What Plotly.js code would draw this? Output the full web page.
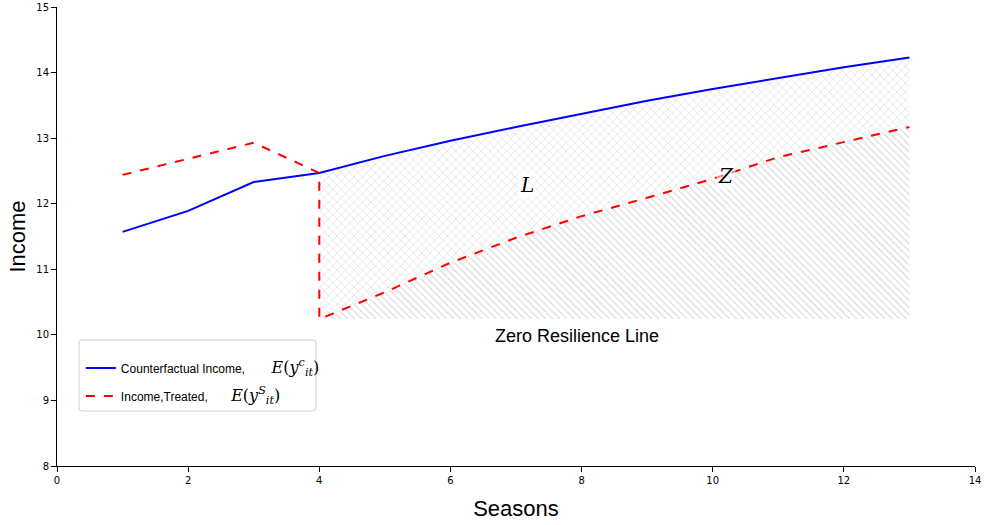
<!DOCTYPE html>
<html>
<head>
<meta charset="utf-8">
<script src="https://cdn.plot.ly/plotly-3.0.1.min.js"></script>
<style>html,body{margin:0;padding:0;background:#fff;}#chart{width:984px;height:525px;}</style>
</head>
<body>
<div id="chart"></div>
<script>
// Seasons for counterfactual
const seasons = [1, 2, 3, 4, 5, 6, 7, 8, 9, 10, 11, 12, 13];
const counterfactual = [11.57, 11.89, 12.33, 12.47, 12.73, 12.96, 13.17, 13.37, 13.57, 13.75, 13.92, 14.08, 14.23];
// Treated income: pre-shock and post-shock (shock at season 4)
const treatedSeasons = [1, 2, 3, 4, 4, 5, 6, 7, 8, 9, 10, 11, 12, 13];
const treated = [12.44, 12.68, 12.93, 12.47, 10.24, 10.65, 11.10, 11.48, 11.81, 12.09, 12.38, 12.71, 12.94, 13.17];
const postSeasons = [4, 5, 6, 7, 8, 9, 10, 11, 12, 13];
const treatedPost = [10.24, 10.65, 11.10, 11.48, 11.81, 12.09, 12.38, 12.71, 12.94, 13.17];
const counterfactualPost = [12.47, 12.73, 12.96, 13.17, 13.37, 13.57, 13.75, 13.92, 14.08, 14.23];
const zeroResilience = postSeasons.map(() => treatedPost[0]);

const mathFont = 'font-family:"DejaVu Serif","Liberation Serif",serif;font-size:16px';
const traces = [
  {x: postSeasons, y: zeroResilience, mode: 'lines', line: {width: 0, color: 'rgba(0,0,0,0)'}, showlegend: false, hoverinfo: 'skip'},
  {x: postSeasons, y: treatedPost, mode: 'lines', line: {width: 0, color: 'rgba(0,0,0,0)'}, fill: 'tonexty',
   fillcolor: 'rgba(0,0,0,0)',
   fillpattern: {shape: '\\', fgcolor: '#d8d8d8', bgcolor: 'rgba(255,255,255,0)', size: 5, solidity: 0.22}, showlegend: false, hoverinfo: 'skip'},
  {x: postSeasons, y: counterfactualPost, mode: 'lines', line: {width: 0, color: 'rgba(0,0,0,0)'}, fill: 'tonexty',
   fillcolor: 'rgba(0,0,0,0)',
   fillpattern: {shape: 'x', fgcolor: '#d4d4d4', bgcolor: 'rgba(255,255,255,0)', size: 6, solidity: 0.18}, showlegend: false, hoverinfo: 'skip'},
  {x: seasons, y: counterfactual, mode: 'lines', line: {color: '#0000ff', width: 2}, legendgroup: 'a',
   name: 'Counterfactual Income,&nbsp;&nbsp;&nbsp;&nbsp;&nbsp;&nbsp;&nbsp;&nbsp;<span style=\'' + mathFont + '\'><i>E</i>(<i>y</i><sup><i>c</i></sup><sub><i>it</i></sub>)</span>'},
  {x: treatedSeasons, y: treated, mode: 'lines', line: {color: '#ff0000', width: 2, dash: 'dash'}, legendgroup: 'b',
   name: 'Income,Treated,&nbsp;&nbsp;&nbsp;&nbsp;&nbsp;&nbsp;&nbsp;<span style=\'' + mathFont + '\'><i>E</i>(<i>y</i><sup><i>S</i></sup><sub><i>it</i></sub>)</span>'}
];

const layout = {
  width: 984, height: 525,
  margin: {l: 57, r: 9, t: 7, b: 59},
  paper_bgcolor: '#ffffff', plot_bgcolor: '#ffffff',
  font: {family: '"Liberation Sans", Arial, sans-serif', color: '#000'},
  showlegend: true,
  legend: {x: 0.026, y: 0.245, xanchor: 'left', yanchor: 'top', bgcolor: 'rgba(255,255,255,0)', borderwidth: 0,
           font: {size: 12, family: '"Liberation Sans", Arial, sans-serif'}, traceorder: 'grouped', tracegroupgap: 9, itemwidth: 30},
  shapes: [
    {type: 'path', xref: 'paper', yref: 'paper', layer: 'above',
     path: 'M 0.0272,0.2745 L 0.2784,0.2745 Q 0.2822,0.2745 0.2822,0.2680 L 0.2822,0.1264 Q 0.2822,0.1198 0.2784,0.1198 L 0.0272,0.1198 Q 0.0240,0.1198 0.0240,0.1264 L 0.0240,0.2680 Q 0.0240,0.2745 0.0272,0.2745 Z',
     fillcolor: '#ffffff', line: {color: '#d0d0d0', width: 1}}
  ],
  xaxis: {range: [0, 14], dtick: 2, tick0: 0, showgrid: false, zeroline: false, showline: true, linecolor: '#000', linewidth: 1,
          ticks: 'outside', ticklen: 5, tickcolor: '#000', tickfont: {size: 10, family: '"DejaVu Sans", sans-serif'},
          title: {text: 'Seasons', font: {size: 22}, standoff: 15}},
  yaxis: {range: [8, 15], dtick: 1, tick0: 8, showgrid: false, zeroline: false, showline: true, linecolor: '#000', linewidth: 1,
          ticks: 'outside', ticklen: 5, tickcolor: '#000', tickfont: {size: 10, family: '"DejaVu Sans", sans-serif'},
          title: {text: 'Income', font: {size: 22}, standoff: 4}},
  annotations: [
    {x: 7.17, y: 12.28, text: '<i>L</i>', showarrow: false, font: {size: 20, family: '"DejaVu Serif","Liberation Serif",serif'}, bgcolor: 'rgba(255,255,255,0.75)'},
    {x: 10.2, y: 12.43, text: '<i>Z</i>', showarrow: false, font: {size: 20, family: '"DejaVu Serif","Liberation Serif",serif'}, bgcolor: 'rgba(255,255,255,0.5)'},
    {x: 7.93, y: 9.98, text: 'Zero Resilience Line', showarrow: false, font: {size: 18}}
  ]
};

Plotly.newPlot('chart', traces, layout, {displayModeBar: false, staticPlot: true});
</script>
</body>
</html>
